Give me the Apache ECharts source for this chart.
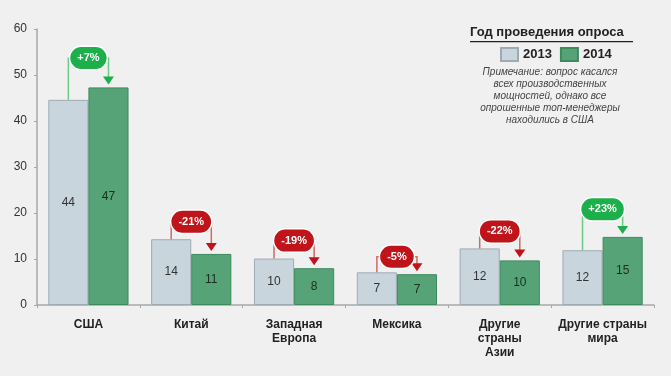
<!DOCTYPE html>
<html>
<head>
<meta charset="utf-8">
<script src="https://cdn.jsdelivr.net/npm/echarts@6/dist/echarts.min.js"></script>
<style>
  html, body { margin: 0; padding: 0; background: #f0f0f0; }
  #chart { width: 671px; height: 376px; }
</style>
</head>
<body>
<div id="chart"></div>
<script>
// данные опроса
var categories = ['США', 'Китай', 'Западная\nЕвропа', 'Мексика', 'Другие\nстраны\nАзии', 'Другие страны\nмира'];
var values2013 = [44.6, 14.3, 10.1, 7.1, 12.3, 11.9];
var values2014 = [47.3, 11.1, 8.0, 6.7, 9.7, 14.8];
var labels2013 = [44, 14, 10, 7, 12, 12];
var labels2014 = [47, 11, 8, 7, 10, 15];
var changes = ['+7%', '-21%', '-19%', '-5%', '-22%', '+23%'];
var pillLevel = [53.7, 18.1, 14.0, 10.5, 16.0, 20.8];   // высота «пилюли» с изменением
var yTicks = [0, 10, 20, 30, 40, 50, 60];

var FONT = '"Liberation Sans", Arial, sans-serif';

var chart = echarts.init(document.getElementById('chart'));

var annData = categories.map(function (c, i) {
  return [i, values2013[i], values2014[i], pillLevel[i], changes[i]];
});

function renderChange(params, api) {
  var i = api.value(0);
  var band = api.size([1, 0])[0];
  var off = band * 0.195;
  var p13 = api.coord([i, api.value(1)]);
  var p14 = api.coord([i, api.value(2)]);
  var pp = api.coord([i, api.value(3)]);
  var txt = changes[i];
  var up = txt.charAt(0) === '+';
  var lineCol = up ? '#6cc986' : '#cf6a64';
  var fillCol = up ? '#1db04a' : '#c0141b';
  var x1 = p13[0] - off, x2 = p14[0] + off;
  var tipY = p14[1] - 3;
  return {
    type: 'group',
    children: [
      {
        type: 'polyline',
        shape: { points: [[x1, p13[1]], [x1, pp[1]], [x2, pp[1]], [x2, tipY - 6]] },
        style: { stroke: lineCol, lineWidth: 1.5, fill: null }
      },
      {
        type: 'polygon',
        shape: { points: [[x2 - 5.5, tipY - 8], [x2 + 5.5, tipY - 8], [x2, tipY]] },
        style: { fill: fillCol }
      },
      {
        type: 'text',
        x: (x1 + x2) / 2,
        y: pp[1],
        style: {
          text: txt,
          align: 'center',
          verticalAlign: 'middle',
          fill: '#fff',
          font: 'bold 11px ' + FONT,
          backgroundColor: fillCol,
          borderColor: '#ffffff',
          borderWidth: 1.5,
          borderRadius: 11,
          padding: [6, 7, 5, 7]
        }
      }
    ]
  };
}

var option = {
  backgroundColor: '#f0f0f0',
  animation: false,
  textStyle: { fontFamily: FONT },
  grid: { left: 37, right: 17, top: 29, bottom: 71 },
  legend: {
    data: ['2013', '2014'],
    top: 47,
    left: 500,
    padding: 0,
    itemWidth: 17,
    itemHeight: 13,
    itemGap: 8,
    textStyle: { fontSize: 13, fontWeight: 'bold', color: '#222', fontFamily: FONT },
    icon: 'rect'
  },
  graphic: [
    {
      type: 'text', left: 470, top: 26,
      style: { text: 'Год проведения опроса', font: 'bold 13px ' + FONT, fill: '#222' }
    },
    {
      type: 'rect', left: 470, top: 41,
      shape: { width: 163, height: 1.2 },
      style: { fill: '#222' }
    },
    {
      type: 'text', x: 550, y: 66,
      style: {
        text: 'Примечание: вопрос касался\nвсех производственных\nмощностей, однако все\nопрошенные топ-менеджеры\nнаходились в США',
        font: 'italic 10px ' + FONT,
        lineHeight: 12,
        align: 'center',
        fill: '#444'
      }
    }
  ],
  xAxis: {
    type: 'category',
    data: categories,
    axisLine: { lineStyle: { color: '#a8a8a8', width: 1.5 } },
    axisTick: { show: true, length: 3, lineStyle: { color: '#a8a8a8' } },
    axisLabel: {
      interval: 0, color: '#222', fontSize: 12, fontWeight: 'bold',
      lineHeight: 14, margin: 13, fontFamily: FONT
    }
  },
  yAxis: {
    type: 'value',
    min: 0, max: 60, interval: 10,
    axisLine: { show: true, lineStyle: { color: '#a8a8a8', width: 1.5 } },
    axisTick: { show: true, length: 3, lineStyle: { color: '#a8a8a8' } },
    splitLine: { show: false },
    axisLabel: {
      color: '#333', fontSize: 12, margin: 10, fontFamily: FONT,
      formatter: function (v) { return yTicks.indexOf(v) >= 0 ? String(v) : ''; }
    }
  },
  series: [
    {
      name: '2013',
      type: 'bar',
      data: values2013,
      barWidth: '39%',
      barGap: '0%',
      itemStyle: { color: '#c9d5dc', borderColor: '#9eabb3', borderWidth: 1 },
      label: {
        show: true, position: 'inside', color: '#333', fontSize: 12,
        formatter: function (p) { return labels2013[p.dataIndex]; }
      }
    },
    {
      name: '2014',
      type: 'bar',
      data: values2014,
      barWidth: '39%',
      itemStyle: { color: '#55a377', borderColor: '#3e8a5f', borderWidth: 1 },
      label: {
        show: true, position: 'inside', color: '#1b2e22', fontSize: 12,
        formatter: function (p) { return labels2014[p.dataIndex]; }
      }
    },
    {
      name: 'change',
      type: 'custom',
      renderItem: renderChange,
      data: annData,
      encode: { x: 0, y: 3 },
      z: 5,
      silent: true
    }
  ]
};

chart.setOption(option);
</script>
</body>
</html>
